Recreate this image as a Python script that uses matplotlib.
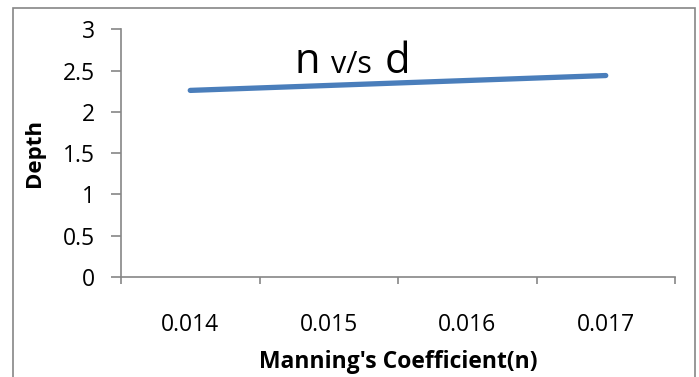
import matplotlib
matplotlib.use('Agg')
import matplotlib.pyplot as plt
from matplotlib.patches import Rectangle

# Manning's n against flow depth
n_values = ['0.014', '0.015', '0.016', '0.017']
depth = [2.26, 2.32, 2.38, 2.44]
y_ticks = [0, 0.5, 1, 1.5, 2, 2.5, 3]
y_labels = ['0', '0.5', '1', '1.5', '2', '2.5', '3']

W, H = 699, 377
fig = plt.figure(figsize=(W / 100, H / 100), dpi=100)
plt.rcParams['font.family'] = ['Open Sans', 'DejaVu Sans']

grey = '#868686'

# chart frame
fig.patches.append(Rectangle((12.5 / W, -0.1), (695 - 12.5) / W, 1.1 - 8 / H,
                             transform=fig.transFigure, fill=False,
                             edgecolor=grey, lw=1.2))

ax = fig.add_axes([121 / W, 1 - 277 / H, (675 - 121) / W, (277 - 29.3) / H])

x = list(range(len(n_values)))
ax.plot(x, depth, color='#4A7EBB', lw=3.8, solid_capstyle='round')

ax.set_xlim(-0.5, len(n_values) - 0.5)
ax.set_ylim(0, 3)

# category axis: ticks between categories, labels centred
ax.set_xticks([i - 0.5 for i in range(len(n_values) + 1)])
ax.set_xticklabels([])
ax.set_xticks(x, minor=True)
ax.set_xticklabels(n_values, minor=True, fontsize=16.5)
ax.tick_params(axis='x', which='minor', length=0, pad=26)
ax.tick_params(axis='x', which='major', direction='in', length=0)
for i in range(len(n_values) + 1):
    ax.plot([i - 0.5, i - 0.5], [0, -0.09], color=grey, lw=1.2,
            clip_on=False, solid_capstyle='butt')

ax.set_yticks(y_ticks)
ax.set_yticklabels(y_labels, fontsize=16.5)
ax.tick_params(axis='y', length=7, width=1.2, color=grey, pad=12)

for side in ['top', 'right']:
    ax.spines[side].set_visible(False)
for side in ['left', 'bottom']:
    ax.spines[side].set_color(grey)
    ax.spines[side].set_linewidth(1.2)

ax.set_xlabel("Manning's Coefficient(n)", fontsize=16.5, fontweight='bold')
ax.xaxis.set_label_coords((398 - 121) / (675 - 121), -(362 - 277) / (277 - 29.3))
ax.xaxis.label.set_va('center')
ax.set_ylabel('Depth', fontsize=16, fontweight='bold')
ax.yaxis.set_label_coords((35 - 121) / (675 - 121), (277 - 153) / (277 - 29.3))
ax.yaxis.label.set_va('center')

# title "n v/s d" with smaller middle part
base = 1 - 73 / H
fig.text(295 / W, base, 'n', fontsize=30, va='baseline', ha='left')
fig.text(331 / W, base, 'v/s', fontsize=22, va='baseline', ha='left')
fig.text(385 / W, base, 'd', fontsize=30, va='baseline', ha='left')

fig.savefig('out.png', dpi=100)
